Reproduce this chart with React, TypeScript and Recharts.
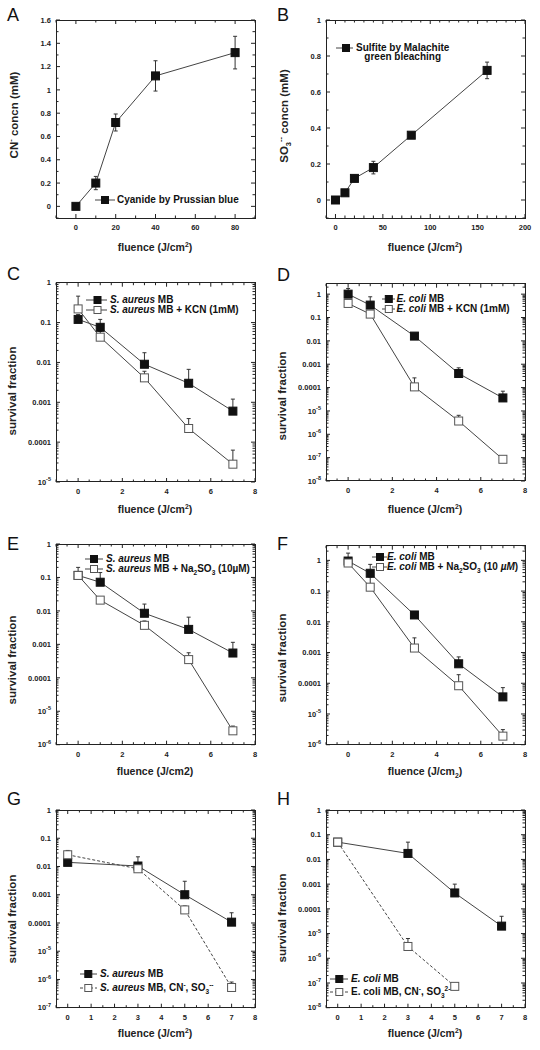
import React from 'react';
import { LineChart, Line, XAxis, YAxis, ErrorBar } from 'recharts';

const FONT = '"Liberation Sans", Arial, Helvetica, sans-serif';

// ---- panel A: cyanide by Prussian blue
const fluenceA = [0, 10, 20, 40, 80];
const cyanideA = [0, 0.2, 0.72, 1.12, 1.32];
const cyanideErrA = [0.02, 0.057, 0.073, 0.13, 0.14];
const xTicksA = [0, 20, 40, 60, 80];
const yTicksA = [0, 0.2, 0.4, 0.6, 0.8, 1, 1.2, 1.4, 1.6];

// ---- panel B: sulfite by malachite green bleaching
const fluenceB = [0, 10, 20, 40, 80, 160];
const sulfiteB = [0, 0.04, 0.12, 0.18, 0.36, 0.72];
const sulfiteErrB = [0.01, 0.01, 0.017, 0.035, 0.012, 0.046];
const xTicksB = [0, 50, 100, 150, 200];
const yTicksB = [0, 0.2, 0.4, 0.6, 0.8, 1];

// ---- panels C-F: fluence 0,1,3,5,7 J/cm2
const fluenceCF = [0, 1, 3, 5, 7];
const xTicksCF = [0, 2, 4, 6, 8];

const saMbC = [0.12, 0.076, 0.009, 0.003, 0.0006];
const saMbTopC = [0.16, 0.12, 0.0175, 0.0067, 0.0012];
const saKcnC = [0.22, 0.043, 0.0041, 0.00022, 0.000028];
const saKcnTopC = [0.46, 0.06, 0.006, 0.00039, 0.000063];

const ecMbD = [1.0, 0.34, 0.016, 0.0004, 0.000036];
const ecMbTopD = [1.75, 0.77, 0.02, 0.0007, 0.00007];
const ecKcnD = [0.4, 0.14, 0.000107, 0.0000037, 0.000000085];
const ecKcnTopD = [0.5, 0.17, 0.00026, 0.0000065, 0.0000001];

const saMbE = [0.115, 0.072, 0.0085, 0.0028, 0.00055];
const saMbTopE = [0.2, 0.14, 0.016, 0.0065, 0.00115];
const saSulE = [0.115, 0.021, 0.0037, 0.00035, 0.0000026];
const saSulTopE = [0.13, 0.025, 0.005, 0.00056, 0.0000036];

const ecMbF = [0.95, 0.38, 0.0167, 0.00043, 0.000036];
const ecMbTopF = [1.72, 0.74, 0.02, 0.00072, 0.000072];
const ecSulF = [0.82, 0.134, 0.0014, 0.000083, 0.0000019];
const ecSulTopF = [0.9, 0.285, 0.003, 0.00019, 0.0000031];

// ---- panels G-H: fluence 0,3,5,7
const fluenceGH = [0, 3, 5, 7];
const xTicksGH = [0, 1, 2, 3, 4, 5, 6, 7, 8];

const saMbG = [0.014, 0.0104, 0.001, 0.000107];
const saMbTopG = [0.016, 0.022, 0.003, 0.00023];
const saAllG = [0.026, 0.0083, 0.00029, 0.00000052];
const saAllTopG = [0.037, 0.0095, 0.0004, 0.00000081];

const ecMbH = [0.05, 0.0175, 0.00044, 0.00002];
const ecMbTopH = [0.055, 0.05, 0.001, 0.00005];
const ecAllH = [0.05, 0.000003, 0.000000073];
const ecAllTopH = [0.055, 0.0000063, 0.00000008];

const r6 = (v: number) => Number(v.toPrecision(6));

// evenly spaced tick marks across a linear domain (labels only on majors)
const linearMarks = (lo: number, hi: number, step: number) => {
  const out: number[] = [];
  const n = Math.round((hi - lo) / step);
  for (let i = 0; i <= n; i++) out.push(r6(lo + i * step));
  return out;
};

// decade ticks plus 2..9 minor marks for log axes
const logMarks = (lo: number, hi: number) => {
  const out: number[] = [];
  for (let e = Math.floor(Math.log10(lo)); e <= Math.ceil(Math.log10(hi)); e++) {
    for (let m = 1; m <= 9; m++) {
      const v = r6(m * 10 ** e);
      if (v >= lo * 0.999 && v <= hi * 1.001) out.push(v);
    }
  }
  return out;
};

const linearRows = (xs: number[], ys: number[], errs: number[]) =>
  xs.map((x, i) => ({ x, a: ys[i], aErr: errs[i] }));

const survivalRows = (xs: number[], a: number[], aTop: number[], b: number[], bTop: number[]) =>
  xs.map((x, i) => ({
    x,
    a: a[i],
    aErr: a[i] !== undefined ? [0, aTop[i] - a[i]] : undefined,
    b: b[i],
    bErr: b[i] !== undefined ? [0, bTop[i] - b[i]] : undefined,
  }));

const FRAME = '#222';
const tickText = { fontFamily: FONT, fontSize: 7.5, fontWeight: 700, fill: '#222' };

type Box = { left: number; right: number; top: number; bottom: number };

const isIn = (list: number[], v: number) => list.some((l) => Math.abs(l - v) < 1e-9);

// y tick: label on the left plus inward marks on the left and right frame edges
const makeYTick = (box: Box, log: boolean, labels: number[]) => (props: any) => {
  const { x, y, payload } = props;
  const v = payload.value as number;
  let major: boolean;
  let label: React.ReactNode = null;
  if (log) {
    const exp = Math.round(Math.log10(v));
    major = Math.abs(v / 10 ** exp - 1) < 1e-6;
    if (major) {
      label =
        exp >= -4 ? (
          String(v)
        ) : (
          <>
            10
            <tspan dy={-3.5} fontSize={5.5}>
              {exp}
            </tspan>
          </>
        );
    }
  } else {
    major = isIn(labels, v);
    if (major) label = String(v);
  }
  const len = major ? 4 : 2.5;
  return (
    <g>
      <rect x={box.left} y={y - 0.5} width={len} height={1} fill={FRAME} />
      <rect x={box.right - len} y={y - 0.5} width={len} height={1} fill={FRAME} />
      {label !== null && (
        <text x={x} y={y} dy={2.7} textAnchor="end" {...tickText}>
          {label}
        </text>
      )}
    </g>
  );
};

// x tick: label below plus inward marks on the bottom and top frame edges
const makeXTick = (box: Box, labels: number[]) => (props: any) => {
  const { x, y, payload } = props;
  const v = payload.value as number;
  const major = isIn(labels, v);
  const len = major ? 4 : 2.5;
  return (
    <g>
      <rect x={x - 0.5} y={box.bottom - len} width={1} height={len} fill={FRAME} />
      <rect x={x - 0.5} y={box.top} width={1} height={len} fill={FRAME} />
      {major && (
        <text x={x} y={y} dy={5.4} textAnchor="middle" {...tickText}>
          {String(v)}
        </text>
      )}
    </g>
  );
};

const squareDot = (filled: boolean) => (props: any) => {
  const { cx, cy, index } = props;
  if (cx == null || cy == null || Number.isNaN(cy)) return <g key={index} />;
  return (
    <rect
      key={index}
      x={cx - 4}
      y={cy - 4}
      width={8}
      height={8}
      fill={filled ? '#111' : '#fff'}
      stroke={filled ? '#111' : '#555'}
      strokeWidth={1}
    />
  );
};

type Series = { key: string; filled: boolean; dashed?: boolean };

type LegendItem = {
  y: number;
  filled: boolean;
  dashed?: boolean;
  content: React.ReactNode;
};

type PanelProps = {
  letter: string;
  letterTop: number;
  left: number;
  top: number;
  data: any[];
  series: Series[];
  xDomain: [number, number];
  xTicks: number[];
  xMinor: number;
  yDomain: [number, number];
  yTicks: number[];
  yMinor?: number;
  yLog: boolean;
  plotTop: number;
  plotBottom: number;
  yTitle: React.ReactNode;
  yTitleX: number;
  yTitleY: number;
  xTitle: React.ReactNode;
  legendLine: [number, number];
  legendMarker: number;
  legendText: number;
  legend: LegendItem[];
  legendBlock?: React.ReactNode;
};

const sup = { fontSize: '0.65em', verticalAlign: 'super', lineHeight: 0 } as const;
const sub = { fontSize: '0.65em', verticalAlign: 'sub', lineHeight: 0 } as const;

function Panel(p: PanelProps) {
  const W = 270;
  const H = 262;
  const box: Box = { left: 56, right: 255, top: p.plotTop, bottom: p.plotBottom };
  const xAxisH = 30;
  const xMarks = linearMarks(p.xDomain[0], p.xDomain[1], p.xMinor);
  const yMarks = p.yLog
    ? logMarks(p.yDomain[0], p.yDomain[1])
    : linearMarks(p.yDomain[0], p.yDomain[1], p.yMinor || 0.1);
  const XTick = makeXTick(box, p.xTicks);
  const YTick = makeYTick(box, p.yLog, p.yTicks);
  return (
    <div style={{ position: 'absolute', left: p.left, top: p.top, width: W, height: H }}>
      <LineChart
        width={W}
        height={H}
        data={p.data}
        margin={{ top: box.top, right: W - box.right, bottom: H - box.bottom - xAxisH, left: 0 }}
      >
        <XAxis
          dataKey="x"
          type="number"
          domain={p.xDomain}
          ticks={xMarks}
          interval={0}
          allowDataOverflow
          height={xAxisH}
          axisLine={false}
          tickLine={false}
          tickSize={0}
          tickMargin={7}
          tick={<XTick />}
        />
        <YAxis
          type="number"
          scale={p.yLog ? 'log' : 'linear'}
          domain={p.yDomain}
          ticks={yMarks}
          interval={0}
          allowDataOverflow
          width={box.left}
          axisLine={false}
          tickLine={false}
          tickSize={0}
          tickMargin={5}
          tick={<YTick />}
        />
        {p.series.map((s) => (
          <Line
            key={s.key}
            dataKey={s.key}
            isAnimationActive={false}
            stroke="#444"
            strokeWidth={1}
            strokeDasharray={s.dashed ? '3 2' : undefined}
            dot={squareDot(s.filled)}
            activeDot={false}
          >
            <ErrorBar dataKey={s.key + 'Err'} direction="y" width={2} stroke="#333" strokeWidth={1} />
          </Line>
        ))}
      </LineChart>

      {/* plot frame */}
      <div
        style={{
          position: 'absolute',
          left: box.left - 0.5,
          top: box.top - 0.5,
          width: box.right - box.left + 1,
          height: box.bottom - box.top + 1,
          border: `1px solid ${FRAME}`,
          boxSizing: 'border-box',
          pointerEvents: 'none',
        }}
      />

      <div
        style={{
          position: 'absolute',
          left: 7,
          top: p.letterTop - 2.3,
          fontSize: 18,
          lineHeight: '18px',
          color: '#111',
        }}
      >
        {p.letter}
      </div>

      <div
        style={{
          position: 'absolute',
          left: p.yTitleX,
          top: p.yTitleY,
          transform: 'translate(-50%, -50%) rotate(-90deg)',
          whiteSpace: 'nowrap',
          fontSize: 11.5,
          fontWeight: 700,
          color: '#222',
        }}
      >
        {p.yTitle}
      </div>

      <div
        style={{
          position: 'absolute',
          left: 155,
          top: 247,
          transform: 'translate(-50%, -50%)',
          whiteSpace: 'nowrap',
          fontSize: 10.5,
          fontWeight: 700,
          color: '#222',
        }}
      >
        {p.xTitle}
      </div>

      {p.legend.map((item, i) => (
        <React.Fragment key={i}>
          <svg
            style={{ position: 'absolute', left: p.legendLine[0], top: item.y - 5 }}
            width={p.legendLine[1] - p.legendLine[0]}
            height={10}
          >
            <line
              x1={0}
              x2={p.legendLine[1] - p.legendLine[0]}
              y1={5}
              y2={5}
              stroke="#444"
              strokeWidth={1}
              strokeDasharray={item.dashed ? '3 2' : undefined}
            />
            <rect
              x={p.legendMarker - p.legendLine[0] - 3.5}
              y={1.5}
              width={7}
              height={7}
              fill={item.filled ? '#111' : '#fff'}
              stroke={item.filled ? '#111' : '#555'}
              strokeWidth={1}
            />
          </svg>
          {item.content !== null && (
            <div
              style={{
                position: 'absolute',
                left: p.legendText,
                top: item.y - 6,
                height: 12,
                lineHeight: '12px',
                fontSize: 10,
                fontWeight: 700,
                whiteSpace: 'nowrap',
                color: '#111',
              }}
            >
              {item.content}
            </div>
          )}
        </React.Fragment>
      ))}
      {p.legendBlock}
    </div>
  );
}

const fluenceTitle = (
  <span>
    fluence (J/cm<span style={sup}>2</span>)
  </span>
);

export default function App() {
  const survivalTitle = <span>survival fraction</span>;
  return (
    <div
      style={{
        position: 'absolute',
        left: 0,
        top: 0,
        width: 540,
        height: 1050,
        background: '#fff',
        fontFamily: FONT,
        overflow: 'hidden',
      }}
    >
      <Panel
        letter="A"
        letterTop={8}
        left={0}
        top={0}
        data={linearRows(fluenceA, cyanideA, cyanideErrA)}
        series={[{ key: 'a', filled: true }]}
        xDomain={[-10, 90]}
        xTicks={xTicksA}
        xMinor={10}
        yDomain={[-0.1, 1.6]}
        yTicks={yTicksA}
        yMinor={0.1}
        yLog={false}
        plotTop={20}
        plotBottom={218}
        yTitle={
          <span>
            CN<span style={sup}>-</span> concn (mM)
          </span>
        }
        yTitleX={14}
        yTitleY={115}
        xTitle={fluenceTitle}
        legendLine={[95, 115]}
        legendMarker={105}
        legendText={117}
        legend={[{ y: 200, filled: true, content: 'Cyanide by Prussian blue' }]}
      />
      <Panel
        letter="B"
        letterTop={8}
        left={270}
        top={0}
        data={linearRows(fluenceB, sulfiteB, sulfiteErrB)}
        series={[{ key: 'a', filled: true }]}
        xDomain={[-10, 200]}
        xTicks={xTicksB}
        xMinor={10}
        yDomain={[-0.1, 1]}
        yTicks={yTicksB}
        yMinor={0.1}
        yLog={false}
        plotTop={20}
        plotBottom={218}
        yTitle={
          <span>
            SO<span style={sub}>3</span>
            <span style={sup}>--</span> concn (mM)
          </span>
        }
        yTitleX={14}
        yTitleY={116}
        xTitle={fluenceTitle}
        legendLine={[66, 83]}
        legendMarker={76}
        legendText={86}
        legend={[{ y: 48, filled: true, content: null }]}
        legendBlock={
          <div
            style={{
              position: 'absolute',
              left: 86,
              top: 42.5,
              fontSize: 10,
              fontWeight: 700,
              lineHeight: '9.7px',
              textAlign: 'center',
              whiteSpace: 'nowrap',
              color: '#111',
            }}
          >
            Sulfite by Malachite
            <br />
            green bleaching
          </div>
        }
      />
      <Panel
        letter="C"
        letterTop={5}
        left={0}
        top={262}
        data={survivalRows(fluenceCF, saMbC, saMbTopC, saKcnC, saKcnTopC)}
        series={[
          { key: 'a', filled: true },
          { key: 'b', filled: false },
        ]}
        xDomain={[-1, 8]}
        xTicks={xTicksCF}
        xMinor={0.5}
        yDomain={[1e-5, 1]}
        yTicks={[]}
        yLog
        plotTop={20.7}
        plotBottom={220}
        yTitle={survivalTitle}
        yTitleX={12}
        yTitleY={129}
        xTitle={fluenceTitle}
        legendLine={[86, 107]}
        legendMarker={97.5}
        legendText={110}
        legend={[
          {
            y: 38.3,
            filled: true,
            content: (
              <span>
                <i>S. aureus</i> MB
              </span>
            ),
          },
          {
            y: 48.3,
            filled: false,
            content: (
              <span>
                <i>S. aureus</i> MB + KCN (1mM)
              </span>
            ),
          },
        ]}
      />
      <Panel
        letter="D"
        letterTop={6}
        left={270}
        top={262}
        data={survivalRows(fluenceCF, ecMbD, ecMbTopD, ecKcnD, ecKcnTopD)}
        series={[
          { key: 'a', filled: true },
          { key: 'b', filled: false },
        ]}
        xDomain={[-1, 8]}
        xTicks={xTicksCF}
        xMinor={0.5}
        yDomain={[1e-8, 2.8]}
        yTicks={[]}
        yLog
        plotTop={21.7}
        plotBottom={219}
        yTitle={survivalTitle}
        yTitleX={12}
        yTitleY={134}
        xTitle={fluenceTitle}
        legendLine={[111.5, 125]}
        legendMarker={118.3}
        legendText={126.5}
        legend={[
          {
            y: 36.7,
            filled: true,
            content: (
              <span>
                <i>E. coli</i> MB
              </span>
            ),
          },
          {
            y: 46.7,
            filled: false,
            content: (
              <span>
                <i>E. coli</i> MB + KCN (1mM)
              </span>
            ),
          },
        ]}
      />
      <Panel
        letter="E"
        letterTop={13}
        left={0}
        top={524}
        data={survivalRows(fluenceCF, saMbE, saMbTopE, saSulE, saSulTopE)}
        series={[
          { key: 'a', filled: true },
          { key: 'b', filled: false },
        ]}
        xDomain={[-1, 8]}
        xTicks={xTicksCF}
        xMinor={0.5}
        yDomain={[1e-6, 1]}
        yTicks={[]}
        yLog
        plotTop={20}
        plotBottom={220.7}
        yTitle={survivalTitle}
        yTitleX={12}
        yTitleY={136}
        xTitle={<span>fluence (J/cm2)</span>}
        legendLine={[85, 103]}
        legendMarker={94}
        legendText={106}
        legend={[
          {
            y: 34.7,
            filled: true,
            content: (
              <span>
                <i>S. aureus</i> MB
              </span>
            ),
          },
          {
            y: 45,
            filled: false,
            content: (
              <span>
                <i>S. aureus</i> MB + Na<span style={sub}>2</span>SO<span style={sub}>3</span> (10µM)
              </span>
            ),
          },
        ]}
      />
      <Panel
        letter="F"
        letterTop={13}
        left={270}
        top={524}
        data={survivalRows(fluenceCF, ecMbF, ecMbTopF, ecSulF, ecSulTopF)}
        series={[
          { key: 'a', filled: true },
          { key: 'b', filled: false },
        ]}
        xDomain={[-1, 8]}
        xTicks={xTicksCF}
        xMinor={0.5}
        yDomain={[1e-6, 3]}
        yTicks={[]}
        yLog
        plotTop={21.7}
        plotBottom={220.7}
        yTitle={survivalTitle}
        yTitleX={12}
        yTitleY={134}
        xTitle={
          <span>
            fluence (J/cm<span style={sub}>2</span>)
          </span>
        }
        legendLine={[102, 117]}
        legendMarker={110}
        legendText={117}
        legend={[
          {
            y: 33.3,
            filled: true,
            content: (
              <span>
                <i>E. coli</i> MB
              </span>
            ),
          },
          {
            y: 43.3,
            filled: false,
            content: (
              <span>
                <i>E. coli</i> MB + Na<span style={sub}>2</span>SO<span style={sub}>3</span> (10 <i>µM</i>)
              </span>
            ),
          },
        ]}
      />
      <Panel
        letter="G"
        letterTop={6}
        left={0}
        top={786}
        data={survivalRows(fluenceGH, saMbG, saMbTopG, saAllG, saAllTopG)}
        series={[
          { key: 'a', filled: true },
          { key: 'b', filled: false, dashed: true },
        ]}
        xDomain={[-0.5, 8]}
        xTicks={xTicksGH}
        xMinor={0.5}
        yDomain={[1e-7, 1]}
        yTicks={[]}
        yLog
        plotTop={24}
        plotBottom={221.7}
        yTitle={survivalTitle}
        yTitleX={12}
        yTitleY={133}
        xTitle={fluenceTitle}
        legendLine={[80, 97]}
        legendMarker={88.3}
        legendText={100}
        legend={[
          {
            y: 188.3,
            filled: true,
            content: (
              <span>
                <i>S. aureus</i> MB
              </span>
            ),
          },
          {
            y: 201.7,
            filled: false,
            dashed: true,
            content: (
              <span>
                <i>S. aureus</i> MB, CN<span style={sup}>-</span>, SO<span style={sub}>3</span>
                <span style={sup}>--</span>
              </span>
            ),
          },
        ]}
      />
      <Panel
        letter="H"
        letterTop={6}
        left={270}
        top={786}
        data={survivalRows(fluenceGH, ecMbH, ecMbTopH, ecAllH, ecAllTopH)}
        series={[
          { key: 'a', filled: true },
          { key: 'b', filled: false, dashed: true },
        ]}
        xDomain={[-0.5, 8]}
        xTicks={xTicksGH}
        xMinor={0.5}
        yDomain={[1e-8, 1]}
        yTicks={[]}
        yLog
        plotTop={24}
        plotBottom={221.7}
        yTitle={survivalTitle}
        yTitleX={12}
        yTitleY={132}
        xTitle={fluenceTitle}
        legendLine={[60, 78]}
        legendMarker={69.3}
        legendText={81}
        legend={[
          {
            y: 192.7,
            filled: true,
            content: (
              <span>
                <i>E. coli</i> MB
              </span>
            ),
          },
          {
            y: 206,
            filled: false,
            dashed: true,
            content: (
              <span>
                E. coli MB, CN<span style={sup}>-</span>, SO<span style={sub}>3</span>
                <span style={sup}>2-</span>
              </span>
            ),
          },
        ]}
      />
    </div>
  );
}
